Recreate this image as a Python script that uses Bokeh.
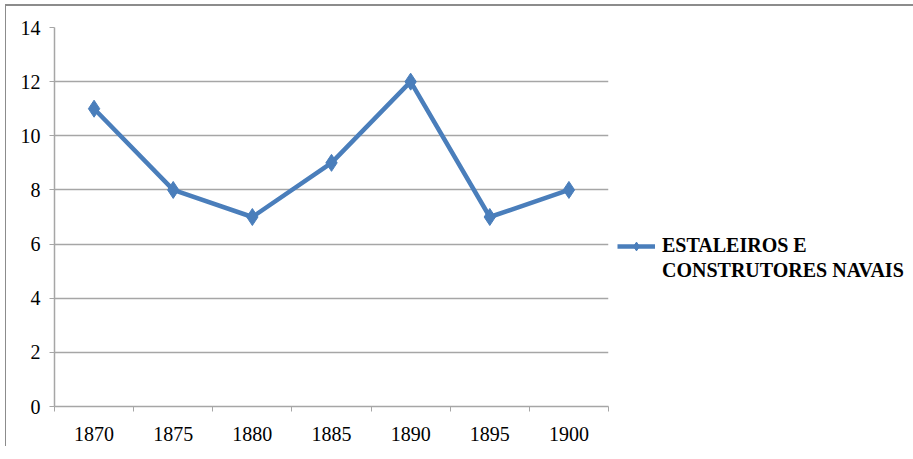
from bokeh.plotting import figure
from bokeh.models import FixedTicker, Range1d, Legend, LegendItem, ColumnDataSource
from bokeh.embed import file_html
from bokeh.resources import INLINE

years = ["1870", "1875", "1880", "1885", "1890", "1895", "1900"]
values = [11, 8, 7, 9, 12, 7, 8]
series_lines = ["ESTALEIROS E", "CONSTRUTORES NAVAIS"]
y_ticks = [0, 2, 4, 6, 8, 10, 12, 14]

xpos = [i + 0.5 for i in range(len(years))]
src = ColumnDataSource(dict(x=xpos, y=values))

COLOR = "#4a7ebb"
GRID = "#a6a6a6"
FONT = "'Liberation Serif', 'Times New Roman', serif"

p = figure(width=890, height=440, output_backend="svg", toolbar_location=None,
           x_range=Range1d(0, len(years)), y_range=Range1d(0, 14),
           min_border_left=48, min_border_top=21, min_border_right=288,
           min_border_bottom=40)
p.frame_width = 554
p.frame_height = 379
p.outline_line_color = None
p.styles = {"border-left": "1px solid #8c8c8c", "border-top": "2px solid #8c8c8c",
            "margin-left": "5px", "margin-top": "4px"}

l = p.line("x", "y", source=src, line_color=COLOR, line_width=4.5)
s = p.scatter("x", "y", source=src, marker="diamond", size=17,
              fill_color=COLOR, line_color=COLOR)
blank = p.line([], [], line_alpha=0)

# x axis: labels at category centres, ticks at boundaries
p.xaxis.ticker = FixedTicker(ticks=xpos, minor_ticks=list(range(len(years) + 1)))
p.xaxis.major_label_overrides = {x: y for x, y in zip(xpos, years)}
p.xaxis.major_tick_out = 0
p.xaxis.major_tick_in = 0
p.xaxis.minor_tick_out = 5
p.xaxis.minor_tick_in = 0
p.xaxis.minor_tick_line_color = GRID
p.xaxis.major_label_standoff = 15

p.yaxis.ticker = FixedTicker(ticks=y_ticks)
p.yaxis.minor_tick_line_color = None
p.yaxis.major_tick_out = 5
p.yaxis.major_tick_in = 0
p.yaxis.major_tick_line_color = GRID
p.yaxis.major_label_standoff = 9

for ax in (p.xaxis, p.yaxis):
    ax.axis_line_color = GRID
    ax.axis_line_width = 1.5
    ax.major_label_text_font = FONT
    ax.major_label_text_font_size = "20px"
    ax.major_label_text_color = "black"

p.xgrid.grid_line_color = None
p.ygrid.ticker = FixedTicker(ticks=y_ticks)
p.ygrid.grid_line_color = GRID
p.ygrid.grid_line_width = 1.5

legend = Legend(items=[LegendItem(label=series_lines[0], renderers=[l, s]),
                       LegendItem(label=series_lines[1], renderers=[blank])],
                location=(9, 124), orientation="vertical",
                label_text_font=FONT, label_text_font_style="bold",
                label_text_font_size="20px", label_text_color="black",
                glyph_width=38, glyph_height=22, label_standoff=7,
                label_height=22,
                border_line_color=None, background_fill_alpha=0,
                padding=0, margin=0, spacing=2)
p.add_layout(legend, "right")

open("out.html", "w").write(file_html(p, INLINE))
